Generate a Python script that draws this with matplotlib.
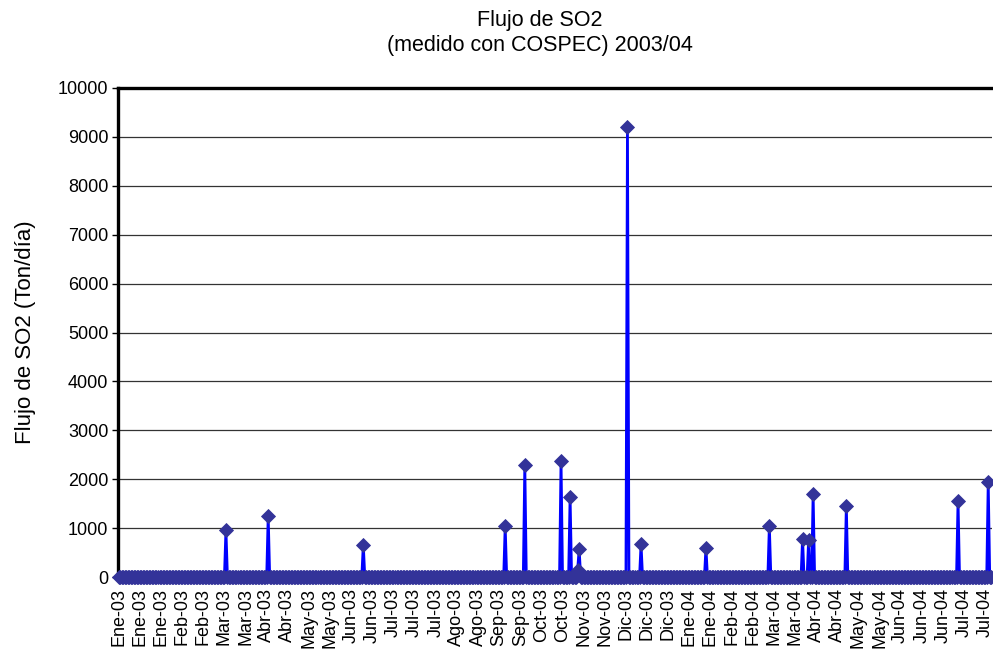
import matplotlib
matplotlib.use("Agg")
import matplotlib.pyplot as plt
import pandas as pd
import numpy as np

plt.rcParams['font.family'] = ['Liberation Sans', 'DejaVu Sans']

# ---- data ----
start_date = "2003-01-01"
end_date = "2004-08-01"
spike_dates = ["2003-03-13", "2003-04-10", "2003-06-12", "2003-09-14", "2003-09-27",
               "2003-10-21", "2003-10-27", "2003-11-01", "2003-11-02", "2003-12-04",
               "2003-12-13", "2004-01-25", "2004-03-07", "2004-03-29", "2004-04-02",
               "2004-04-05", "2004-04-27", "2004-07-10", "2004-07-30"]
spike_values = [960, 1250, 660, 1040, 2300,
                2370, 1630, 150, 570, 9200,
                670, 600, 1040, 780, 750,
                1690, 1450, 1550, 1940]
month_abbr = ["Ene", "Feb", "Mar", "Abr", "May", "Jun",
              "Jul", "Ago", "Sep", "Oct", "Nov", "Dic"]
label_step_days = 14

title = "Flujo de SO2\n(medido con COSPEC) 2003/04"
ylabel = "Flujo de SO2 (Ton/día)"

# ---- build daily series ----
dates = pd.date_range(start_date, end_date, freq="D")
series = pd.Series(0.0, index=dates)
series.loc[pd.to_datetime(spike_dates)] = spike_values
x = np.arange(len(series))
n = len(series)

fig = plt.figure(figsize=(9.93, 6.52), dpi=100)
ax = fig.add_axes([118/993, 1-577/652, (992-118)/993, (577-88)/652])

ax.plot(x, series.values, color="#0000FF", lw=2.0, zorder=3,
        marker="D", markersize=7.2, markerfacecolor="#333399",
        markeredgecolor="#333399", markeredgewidth=0.6, clip_on=False)

ax.set_xlim(-0.5, n - 0.5)
ax.set_ylim(0, 10000)
ax.set_yticks(np.arange(0, 10001, 1000))
ax.yaxis.grid(True, color="#333333", lw=0.9)
ax.set_axisbelow(True)

tick_idx = np.arange(0, n, label_step_days)
tick_labels = [f"{month_abbr[dates[i].month-1]}-{dates[i].strftime('%y')}" for i in tick_idx]
ax.set_xticks(tick_idx)
ax.set_xticklabels(tick_labels, rotation=90, fontsize=13)
ax.tick_params(axis='x', length=0, pad=8)
ax.tick_params(axis='y', labelsize=13, length=4, width=1, direction='out', pad=3)

for s in ["right"]:
    ax.spines[s].set_visible(False)
ax.spines["left"].set_linewidth(2.4)
ax.spines["top"].set_linewidth(2.4)
ax.spines["bottom"].set_linewidth(1)

ax.set_ylabel(ylabel, fontsize=16, labelpad=16)
fig.text(540/993, 1-33/652, title, ha="center", va="center", fontsize=15.5,
         linespacing=1.2)

fig.savefig("out.png", dpi=100)
